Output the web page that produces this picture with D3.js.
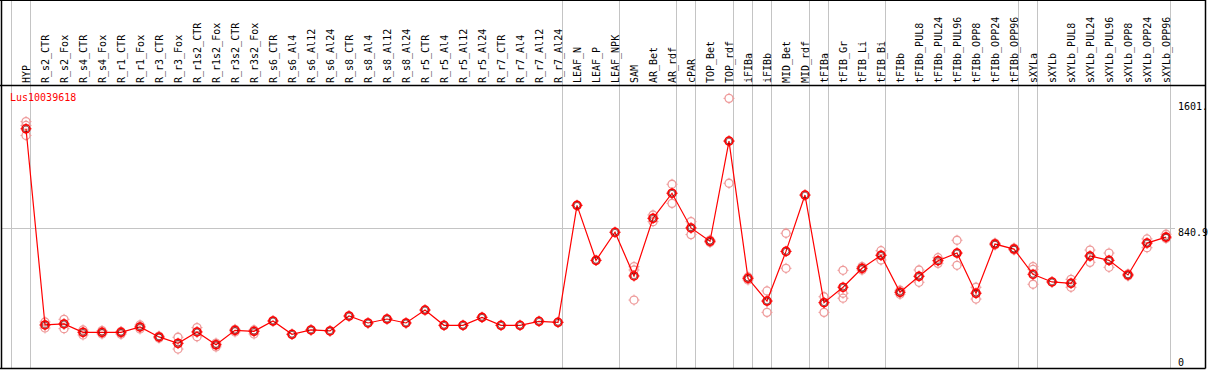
<!DOCTYPE html>
<html>
<head>
<meta charset="utf-8">
<script src="https://cdn.jsdelivr.net/npm/d3@7"></script>
<style>
html,body{margin:0;padding:0;background:#fff;}
svg{display:block;}
text{font-family:"DejaVu Sans Mono",monospace;font-size:10px;}
</style>
</head>
<body>
<svg id="chart" width="1209" height="370"></svg>
<script>
const geneName = "Lus10039618";
const categories = ["HYP","R_s2_CTR","R_s2_Fox","R_s4_CTR","R_s4_Fox","R_r1_CTR","R_r1_Fox","R_r3_CTR","R_r3_Fox","R_r1s2_CTR","R_r1s2_Fox","R_r3s2_CTR","R_r3s2_Fox","R_s6_CTR","R_s6_Al4","R_s6_Al12","R_s6_Al24","R_s8_CTR","R_s8_Al4","R_s8_Al12","R_s8_Al24","R_r5_CTR","R_r5_Al4","R_r5_Al12","R_r5_Al24","R_r7_CTR","R_r7_Al4","R_r7_Al12","R_r7_Al24","LEAF_N","LEAF_P","LEAF_NPK","SAM","AR_Bet","AR_rdf","cPAR","TOP_Bet","TOP_rdf","iFIBa","iFIBb","MID_Bet","MID_rdf","tFIBa","tFIB_Gr","tFIB_Li","tFIB_Bi","tFIBb","tFIBb_PUL8","tFIBb_PUL24","tFIBb_PUL96","tFIBb_OPP8","tFIBb_OPP24","tFIBb_OPP96","sXYLa","sXYLb","sXYLb_PUL8","sXYLb_PUL24","sXYLb_PUL96","sXYLb_OPP8","sXYLb_OPP24","sXYLb_OPP96"];
const means = [1440,259,265,215,215,215,247,187,149,217,140,227,221,283,203,229,223,313,271,295,271,349,257,257,305,257,257,281,275,979,648,817,554,901,1052,843,763,1366,540,403,702,1041,393,486,600,678,456,552,646,692,450,746,716,564,518,510,674,648,560,752,788];
const replicates = [[1483,1460,1400],[277,259,241],[293,265,237],[229,215,199],[225,212,205],[220,210,203],[259,247,235],[192,185,180],[185,147,114],[243,217,188],[150,140,127],[233,227,217],[229,221,205],[283],[203],[229],[223],[313],[271],[295],[271],[349],[257],[257],[305],[257],[257],[281],[275],[979],[648],[817],[610,590,409],[921,901,881],[1106,1052,991],[881,843,803],[770,763,755],[1623,1366,1112],[548,540,530],[464,403,335],[811,702,600],[1041],[429,395,335],[588,450,420],[610,600,590],[706,680,650],[468,456,444],[590,552,516],[664,646,630],[769,692,618],[486,450,415],[752,746,740],[722,716,710],[610,594,504],[518],[534,510,486],[710,674,636],[692,648,606],[566,560,554],[777,752,724],[805,788,780]];
const groupEnds = ["HYP","R_r7_Al24","LEAF_NPK","AR_rdf","cPAR","TOP_rdf","iFIBa","iFIBb","MID_rdf","tFIBa","tFIB_Bi","tFIBb_OPP96","sXYLa","sXYLb_OPP96"];
const yTickValues = [0, 840.9, 1601];
const yTickLabels = ["0", "840.9", "1601."];

const svg = d3.select("#chart");
const W = 1209, frameRight = 1205.5, plotTop = 85.5, plotBottom = 368.5;

const x = d3.scaleBand().domain(categories).range([11, 11 + 19 * categories.length]).paddingInner(0).paddingOuter(0);
const cx = d => x(d) + 15;
const y = d3.scaleLinear().domain([0, 840.9]).range([368, 228.3]);

// vertical group lines
svg.append("line").attr("x1", x(categories[0]) + 0.5).attr("x2", x(categories[0]) + 0.5)
  .attr("y1", 0).attr("y2", plotBottom).attr("stroke", "#c4c4c4").attr("stroke-width", 1);
svg.selectAll("line.grp").data(groupEnds).enter().append("line")
  .attr("class", "grp")
  .attr("x1", d => Math.round(x(d) + x.bandwidth()) + 0.5)
  .attr("x2", d => Math.round(x(d) + x.bandwidth()) + 0.5)
  .attr("y1", 0).attr("y2", plotBottom)
  .attr("stroke", "#c4c4c4").attr("stroke-width", 1);

// horizontal gridline
svg.append("line").attr("x1", 1).attr("x2", 1175)
  .attr("y1", Math.round(y(840.9)) + 0.5).attr("y2", Math.round(y(840.9)) + 0.5)
  .attr("stroke", "#c4c4c4").attr("stroke-width", 1);

// frame
svg.append("line").attr("x1", 0).attr("x2", frameRight).attr("y1", 0.5).attr("y2", 0.5).attr("stroke", "#000");
svg.append("line").attr("x1", 0).attr("x2", frameRight).attr("y1", plotTop).attr("y2", plotTop).attr("stroke", "#000").attr("stroke-width", 1.5);
svg.append("line").attr("x1", 0).attr("x2", frameRight).attr("y1", plotBottom).attr("y2", plotBottom).attr("stroke", "#000").attr("stroke-width", 1.5);
svg.append("line").attr("x1", 1.5).attr("x2", 1.5).attr("y1", 0).attr("y2", plotBottom).attr("stroke", "#000").attr("stroke-width", 1.5);
svg.append("line").attr("x1", frameRight).attr("x2", frameRight).attr("y1", 0).attr("y2", plotBottom).attr("stroke", "#000").attr("stroke-width", 1.5);

// category labels (rotated)
svg.selectAll("text.cat").data(categories).enter().append("text")
  .attr("class", "cat")
  .attr("transform", d => `translate(${x(d) + 18.5},83) rotate(-90)`)
  .attr("text-anchor", "start")
  .attr("fill", "#000")
  .text(d => d);

// y labels
svg.selectAll("text.ytick").data(yTickValues).enter().append("text")
  .attr("class", "ytick")
  .attr("x", 1178)
  .attr("y", d => d === 0 ? y(d) - 2.5 : y(d) + 7.5)
  .attr("fill", "#000")
  .text((d, i) => yTickLabels[i]);

// title
svg.append("text").attr("x", 10).attr("y", 101).attr("fill", "#ff0000").text(geneName);

function marker(g, color, sw) {
  g.append("circle").attr("r", 4).attr("fill", "none").attr("stroke", color).attr("stroke-width", sw);
  [[0,-4,0,-5.5],[0,4,0,5.5],[-4,0,-5.5,0],[4,0,5.5,0]].forEach(t => {
    g.append("line").attr("x1", t[0]).attr("y1", t[1]).attr("x2", t[2]).attr("y2", t[3])
      .attr("stroke", color).attr("stroke-width", 1);
  });
}

// replicates
const repPts = [];
categories.forEach((c, i) => replicates[i].forEach(v => repPts.push({c, v})));
svg.selectAll("g.rep").data(repPts).enter().append("g")
  .attr("class", "rep")
  .attr("transform", d => `translate(${cx(d.c)},${y(d.v)})`)
  .each(function() { marker(d3.select(this), "#ee9a9a", 1.3); });

// mean line
const line = d3.line().x((d, i) => cx(categories[i])).y(d => y(d));
svg.append("path").datum(means).attr("d", line)
  .attr("fill", "none").attr("stroke", "#ff0000").attr("stroke-width", 1.2);

// mean markers
svg.selectAll("g.mean").data(means).enter().append("g")
  .attr("class", "mean")
  .attr("transform", (d, i) => `translate(${cx(categories[i])},${y(d)})`)
  .each(function() {
    const g = d3.select(this);
    marker(g, "#ff0000", 1.6);
    g.append("circle").attr("r", 2.9).attr("fill", "none").attr("stroke", "#550000").attr("stroke-width", 0.8).attr("opacity", 0.8);
  });
</script>
</body>
</html>
